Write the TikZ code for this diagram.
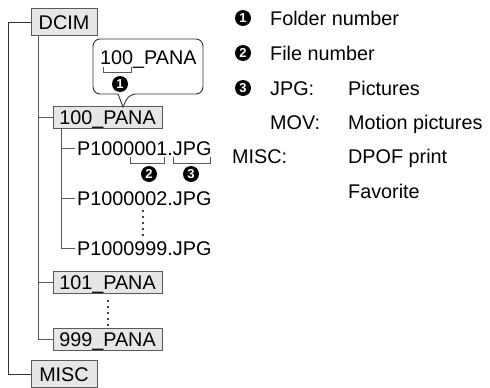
\documentclass[tikz,border=0pt]{standalone}
\usepackage{fontspec}
\setmainfont{Liberation Sans}
\newfontfamily\bulletfont{Liberation Sans Bold}
\definecolor{boxfill}{HTML}{E6E6E6}
\definecolor{linec}{HTML}{5A5A5A}
\definecolor{darkline}{HTML}{333333}
\begin{document}
\begin{tikzpicture}[x=1pt,y=-1pt,
  txt/.style={font=\fontsize{19.8}{20}\selectfont, inner sep=0pt, text height=14pt, text depth=0pt},
  folder/.style={txt, draw=linec, fill=boxfill, line width=0.9pt, minimum width=109pt, minimum height=22pt},
  topfolder/.style={txt, draw=linec, fill=boxfill, line width=0.9pt, minimum width=66pt, minimum height=27pt},
  filetxt/.style={txt, anchor=west, inner xsep=2pt},
  legtxt/.style={txt, anchor=west},
  bul/.style={circle, fill=black, text=white, inner sep=0pt, minimum size=16pt, font=\bulletfont\fontsize{13}{13}\selectfont},
  tree/.style={draw=linec, line width=0.9pt},
  outertree/.style={draw=darkline, line width=0.9pt},
  brace/.style={draw=linec, line width=0.8pt},
  dotc/.style={fill=black}
]
\useasboundingbox (0,0) rectangle (490,388);

% folder boxes
\node[topfolder] (dcim) at (64,22) {DCIM};
\node[folder] (p100) at (107.5,117.5) {100\_PANA};
\node[folder] (p101) at (107.5,282) {101\_PANA};
\node[folder] (p999) at (107.5,339) {999\_PANA};
\node[topfolder] (misc) at (64,374) {MISC};

% files
\node[filetxt] (f1) at (75,148) {P1000001.JPG};
\node[filetxt] (f2) at (75,198) {P1000002.JPG};
\node[filetxt] (f3) at (75,248) {P1000999.JPG};

% tree lines
\coordinate (outer) at (8,22);
\draw[outertree] (dcim.west) -- (outer) |- (misc.west);
\coordinate (inner) at (38,35.5);
\draw[tree] (inner) |- (p100.west);
\draw[tree] (inner) |- (p101.west);
\draw[tree] (inner) |- (p999.west);
\coordinate (fline) at (61,128.5);
\draw[tree] (fline) |- (f1.west);
\draw[tree] (fline) |- (f2.west);
\draw[tree] (fline) |- (f3.west);

% callout
\draw[draw=darkline, line width=0.9pt, fill=white, rounded corners=7pt]
  (118,94) -- (93,94) -- (93,39) -- (203,39) -- (203,94) -- (129,94)
  [sharp corners] -- (123,107) -- cycle;
\node[txt, anchor=west] (ctext) at (100,57) {100\_PANA};
\draw[brace] (103,67) |- (131,72) -- (131,67);
\node[bul] (b1) at (120,84) {1};

% file braces
\draw[brace] (130,157) |- (164,163) -- (164,157);
\draw[brace] (173,157) |- (210,163) -- (210,157);
\node[bul] (b2) at (149,174) {2};
\node[bul] (b3) at (191,174) {3};

% vertical dots
\foreach \yy in {211,217,223,229,235} \fill[dotc] (143,\yy) circle (1.2pt);
\foreach \yy in {301,307,313,319,325} \fill[dotc] (108,\yy) circle (1.2pt);

% legend
\node[bul] (l1) at (243,18) {1};
\node[bul] (l2) at (243,53) {2};
\node[bul] (l3) at (243,88) {3};
\node[legtxt] (t1) at (270,18) {Folder number};
\node[legtxt] (t2) at (270,53) {File number};
\node[legtxt] (t3) at (270,88) {JPG:};
\node[legtxt] (t3b) at (348,88) {Pictures};
\node[legtxt] (t4) at (270,122) {MOV:};
\node[legtxt] (t4b) at (348,122) {Motion pictures};
\node[legtxt] (t5) at (232,156) {MISC:};
\node[legtxt] (t5b) at (348,156) {DPOF print};
\node[legtxt] (t6b) at (348,191) {Favorite};
\end{tikzpicture}
\end{document}
